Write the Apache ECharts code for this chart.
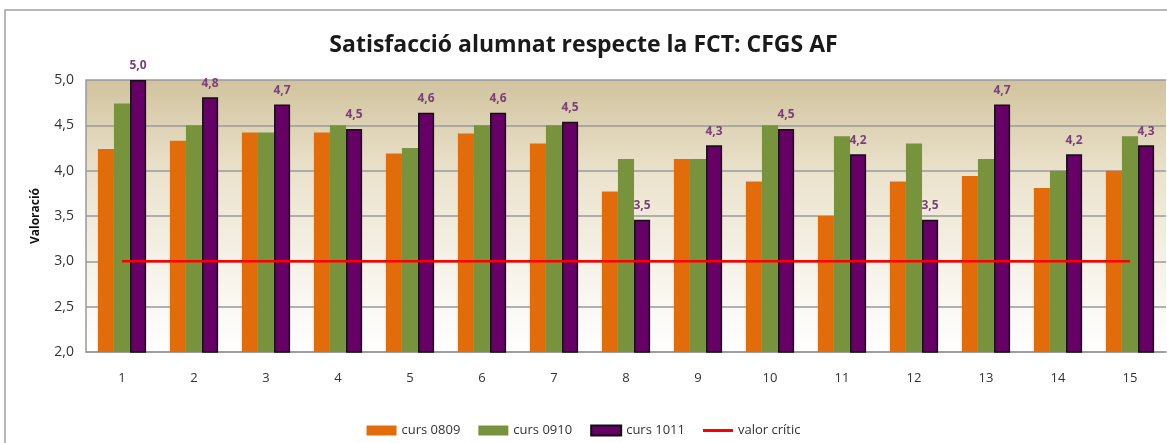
<!DOCTYPE html>
<html>
<head>
<meta charset="utf-8">
<script src="https://cdn.jsdelivr.net/npm/echarts@6/dist/echarts.min.js"></script>
<style>
  html, body { margin: 0; padding: 0; background: #fff; }
  #chart { width: 1167px; height: 443px; }
</style>
</head>
<body>
<div id="chart"></div>
<script>
// dades llegides del gràfic
var categories = ['1', '2', '3', '4', '5', '6', '7', '8', '9', '10', '11', '12', '13', '14', '15'];
var curs0809 = [4.24, 4.33, 4.42, 4.42, 4.19, 4.41, 4.30, 3.77, 4.13, 3.88, 3.50, 3.88, 3.94, 3.81, 4.00];
var curs0910 = [4.74, 4.50, 4.42, 4.50, 4.25, 4.50, 4.50, 4.13, 4.13, 4.50, 4.38, 4.30, 4.13, 4.00, 4.38];
var curs1011 = [5.00, 4.81, 4.73, 4.46, 4.64, 4.64, 4.54, 3.46, 4.28, 4.46, 4.18, 3.46, 4.73, 4.18, 4.28];
var valorCritic = [3, 3, 3, 3, 3, 3, 3, 3, 3, 3, 3, 3, 3, 3, 3];
var yTicks = { min: 2, max: 5, interval: 0.5 };

var chart = echarts.init(document.getElementById('chart'));
var fmt = function (v) { return Number(v).toFixed(1).replace('.', ','); };

var option = {
  animation: false,
  textStyle: { fontFamily: 'Open Sans' },
  title: {
    text: 'Satisfacció alumnat respecte la FCT: CFGS AF',
    left: 'center',
    top: 29,
    textStyle: { fontFamily: 'Open Sans', fontWeight: 'bold', fontSize: 23, color: '#1a1a1a' }
  },
  graphic: [{
    type: 'rect',
    shape: { x: 5, y: 10, width: 1300, height: 600 },
    style: { fill: 'none', stroke: '#a0a0a0', lineWidth: 1.5 },
    silent: true
  }],
  legend: {
    bottom: 1,
    left: 'center',
    icon: 'rect',
    itemWidth: 30,
    itemHeight: 10,
    itemGap: 18,
    textStyle: { fontSize: 13, color: '#333' },
    data: [
      { name: 'curs 0809' },
      { name: 'curs 0910' },
      { name: 'curs 1011' },
      { name: 'valor crític', icon: 'path://M0,0 L30,0 L30,3 L0,3 Z' }
    ]
  },
  grid: {
    left: 86, right: 1, top: 80, bottom: 91,
    show: true,
    borderWidth: 0,
    backgroundColor: {
      type: 'linear', x: 0, y: 0, x2: 0, y2: 1,
      colorStops: [
        { offset: 0, color: '#d1c39e' },
        { offset: 0.35, color: '#ebe3cd' },
        { offset: 0.7, color: '#f7f3ea' },
        { offset: 1, color: '#ffffff' }
      ]
    }
  },
  xAxis: {
    type: 'category',
    data: categories,
    axisLine: { lineStyle: { color: '#999', width: 1.5 } },
    axisTick: { show: false },
    axisLabel: { color: '#333', fontSize: 13, margin: 20 }
  },
  yAxis: {
    type: 'value',
    min: yTicks.min,
    max: yTicks.max,
    interval: yTicks.interval,
    name: 'Valoració',
    nameLocation: 'middle',
    nameGap: 44,
    nameTextStyle: { color: '#111', fontSize: 12, fontWeight: 'bold' },
    axisLine: { show: true, lineStyle: { color: '#999', width: 1.5 } },
    splitLine: { lineStyle: { color: '#9a9a9a', width: 1.5 } },
    axisLabel: { color: '#333', fontSize: 14, margin: 12, formatter: fmt }
  },
  series: [
    {
      name: 'curs 0809', type: 'bar', data: curs0809,
      barGap: '0%', barCategoryGap: '33%',
      itemStyle: { color: '#e36c0a' }
    },
    {
      name: 'curs 0910', type: 'bar', data: curs0910,
      itemStyle: { color: '#77933c' }
    },
    {
      name: 'curs 1011', type: 'bar', data: curs1011,
      itemStyle: { color: '#660066', borderColor: '#111', borderWidth: 1.5 },
      label: {
        show: true, position: 'top', distance: 8,
        color: '#7a3f7a', fontSize: 12, fontWeight: 'bold',
        formatter: function (p) { return fmt(p.value); }
      }
    },
    {
      name: 'valor crític', type: 'line', data: valorCritic,
      symbol: 'none',
      itemStyle: { color: '#ff0000' },
      lineStyle: { color: '#ff0000', width: 2.5 },
      z: 5
    }
  ]
};
chart.setOption(option);
</script>
</body>
</html>
